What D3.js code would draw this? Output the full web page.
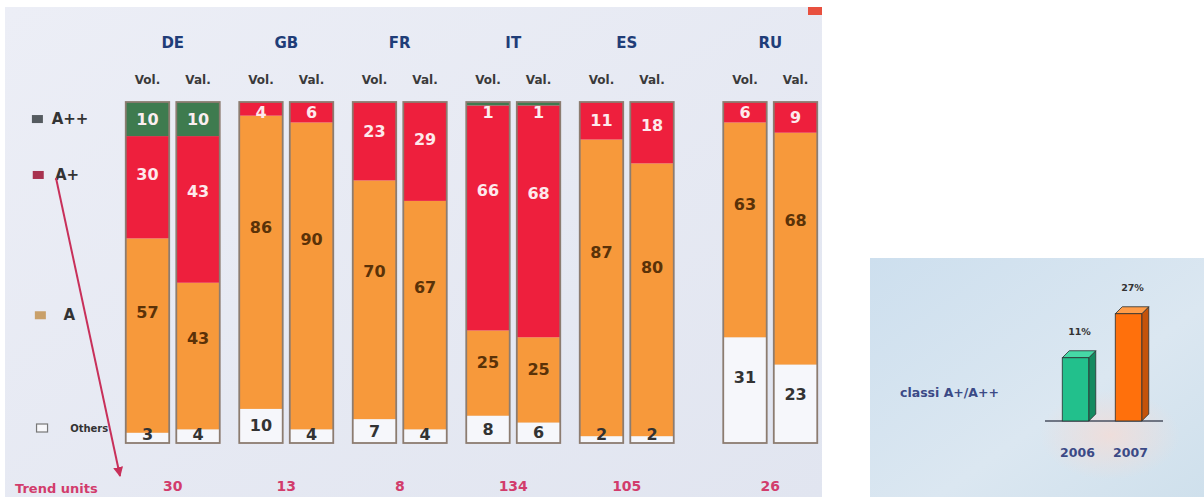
<!doctype html>
<html>
<head>
<meta charset="UTF-8">
<title>classi energetiche</title>
<script src="https://d3js.org/d3.v7.min.js"></script>
<style>
  body { margin: 0; background: #fff; }
  svg { display: block; font-family: "DejaVu Sans", Verdana, sans-serif; }
</style>
</head>
<body>
<svg width="1204" height="497"></svg>
<script>
// data (percent shares, Vol. / Val. per country)
var countries = ["DE", "GB", "FR", "IT", "ES", "RU"];
var measures = ["Vol.", "Val."];
var classes = ["Others", "A", "A+", "A++"];   // bottom -> top
var others   = [[3, 4], [10, 4], [7, 4], [8, 6], [2, 2], [31, 23]];
var classA   = [[57, 43], [86, 90], [70, 67], [25, 25], [87, 80], [63, 68]];
var classAp  = [[30, 43], [4, 6], [23, 29], [66, 68], [11, 18], [6, 9]];
var classApp = [[10, 10], [0, 0], [0, 0], [1, 1], [0, 0], [0, 0]];
var trendUnits = [30, 13, 8, 134, 105, 26];

// inset
var years = ["2006", "2007"];
var shareAplus = [11, 27];

var fills = { "A++": "#3e7b4f", "A+": "#ee1f3d", "A": "#f7993b", "Others": "#f6f7fb" };
var labelColor = { "A++": "#fbeef0", "A+": "#fde9ec", "A": "#5a3208", "Others": "#333" };
var legendColor = { "A++": "#555b60", "A+": "#a8324f", "A": "#c9a06a", "Others": "#f8f8fb" };

var svg = d3.select("svg");
var defs = svg.append("defs");

var bg = defs.append("linearGradient").attr("id", "bg").attr("x1", 0).attr("y1", 0).attr("x2", 1).attr("y2", 1);
bg.append("stop").attr("offset", "0%").attr("stop-color", "#eceef6");
bg.append("stop").attr("offset", "100%").attr("stop-color", "#e1e5f0");

var bg2 = defs.append("linearGradient").attr("id", "bg2").attr("x1", 0).attr("y1", 0).attr("x2", 1).attr("y2", 1);
bg2.append("stop").attr("offset", "0%").attr("stop-color", "#cddfee");
bg2.append("stop").attr("offset", "60%").attr("stop-color", "#dbe7f1");
bg2.append("stop").attr("offset", "100%").attr("stop-color", "#cfe0ec");

var glow = defs.append("radialGradient").attr("id", "glow");
glow.append("stop").attr("offset", "0%").attr("stop-color", "#f4dcd6").attr("stop-opacity", 0.8);
glow.append("stop").attr("offset", "100%").attr("stop-color", "#f4dcd6").attr("stop-opacity", 0);

defs.append("marker").attr("id", "arr")
  .attr("viewBox", "0 0 10 10").attr("refX", 9).attr("refY", 5)
  .attr("markerWidth", 5).attr("markerHeight", 5).attr("orient", "auto")
  .append("path").attr("d", "M0,0L10,5L0,10z").attr("fill", "#c8305a");

// main panel
svg.append("rect").attr("x", 5).attr("y", 7).attr("width", 817).attr("height", 490).attr("fill", "url(#bg)");
svg.append("rect").attr("x", 808).attr("y", 7).attr("width", 14).attr("height", 8).attr("fill", "#e8503f");

// scales
var groupW = 94;
var extraGap = 30; // RU stands a bit apart
var x0 = d3.scaleBand().domain(countries).range([116, 797]);
var x1 = d3.scaleBand().domain(measures).range([0, groupW]).paddingInner(0.14);
var y = d3.scaleLinear().domain([0, 100]).range([443, 102]);

function groupX(c) {
  var i = countries.indexOf(c);
  return x0(c) + (x0.bandwidth() - groupW) / 2 + (i === countries.length - 1 ? extraGap : 0);
}

// build rows
var rows = [];
countries.forEach(function (c, i) {
  measures.forEach(function (m, j) {
    rows.push({ country: c, measure: m, Others: others[i][j], "A": classA[i][j], "A+": classAp[i][j], "A++": classApp[i][j] });
  });
});
var series = d3.stack().keys(classes)(rows);

var segs = [];
series.forEach(function (s) {
  s.forEach(function (d) {
    var v = d[1] - d[0];
    if (v <= 0) return;
    var top = y(d[1]), bot = y(d[0]), h = bot - top;
    var ly = h >= 45 ? top + h * 0.38 : top + h / 2;
    if (d[1] >= 100) ly = Math.max(ly, top + 10);
    if (d[0] <= 0) ly = Math.min(ly, bot - 9);
    segs.push({ key: s.key, v: v, x: groupX(d.data.country) + x1(d.data.measure), top: top, h: h, ly: ly, row: d.data });
  });
});

svg.append("g").selectAll("rect").data(segs).enter().append("rect")
  .attr("x", function (d) { return d.x; })
  .attr("y", function (d) { return d.top; })
  .attr("width", x1.bandwidth())
  .attr("height", function (d) { return d.h; })
  .attr("fill", function (d) { return fills[d.key]; });

// bar outlines
svg.append("g").selectAll("rect").data(rows).enter().append("rect")
  .attr("x", function (d) { return groupX(d.country) + x1(d.measure); })
  .attr("y", y(100))
  .attr("width", x1.bandwidth())
  .attr("height", y(0) - y(100))
  .attr("fill", "none")
  .attr("stroke", "#8c7c70")
  .attr("stroke-width", 1.8);

svg.append("g").selectAll("text").data(segs).enter().append("text")
  .attr("x", function (d) { return d.x + x1.bandwidth() / 2; })
  .attr("y", function (d) { return d.ly; })
  .attr("text-anchor", "middle")
  .attr("dominant-baseline", "central")
  .attr("font-size", 16)
  .attr("font-weight", "bold")
  .attr("fill", function (d) { return labelColor[d.key]; })
  .text(function (d) { return d.v; });

// headers
svg.append("g").selectAll("text").data(countries).enter().append("text")
  .attr("x", function (c) { return groupX(c) + groupW / 2; })
  .attr("y", 43)
  .attr("text-anchor", "middle")
  .attr("dominant-baseline", "central")
  .attr("font-size", 15)
  .attr("font-weight", "bold")
  .attr("fill", "#1f3d78")
  .text(function (c) { return c; });

svg.append("g").selectAll("text").data(rows).enter().append("text")
  .attr("x", function (d) { return groupX(d.country) + x1(d.measure) + x1.bandwidth() / 2; })
  .attr("y", 80)
  .attr("text-anchor", "middle")
  .attr("dominant-baseline", "central")
  .attr("font-size", 12)
  .attr("font-weight", "bold")
  .attr("fill", "#3a3a3a")
  .text(function (d) { return d.measure; });

// legend, aligned with the DE Vol. labels
var legend = classes.slice().reverse().map(function (k) {
  var s = segs.filter(function (d) { return d.key === k && d.row.country === "DE" && d.row.measure === "Vol."; })[0];
  return { key: k, y: k === "Others" ? s.ly - 6 : s.ly + (k === "A" ? 3 : 0) };
});
var lg = svg.append("g").selectAll("g").data(legend).enter().append("g");
lg.append("rect")
  .attr("x", function (d) { return 32 + (d.y - 125) * 0.015; })
  .attr("y", function (d) { return d.y - 4; })
  .attr("width", 11).attr("height", 8)
  .attr("fill", function (d) { return legendColor[d.key]; })
  .attr("stroke", function (d) { return d.key === "Others" ? "#777" : "none"; })
  .attr("stroke-width", 1.2);
lg.append("text")
  .attr("x", function (d) { return 52 + (d.y - 125) * 0.06; })
  .attr("y", function (d) { return d.y; })
  .attr("dominant-baseline", "central")
  .attr("font-weight", "bold")
  .attr("font-size", function (d) { return d.key === "Others" ? 10 : 15; })
  .attr("fill", "#333")
  .text(function (d) { return d.key; });

// trend arrow + units
var aPlusY = legend.filter(function (d) { return d.key === "A+"; })[0].y;
svg.append("line")
  .attr("x1", 56).attr("y1", aPlusY + 3)
  .attr("x2", 120).attr("y2", 476)
  .attr("stroke", "#c8305a").attr("stroke-width", 2)
  .attr("marker-end", "url(#arr)");

svg.append("text").attr("x", 15).attr("y", 488)
  .attr("dominant-baseline", "central")
  .attr("font-size", 13).attr("font-weight", "bold").attr("fill", "#d23c6c")
  .text("Trend units");

svg.append("g").selectAll("text").data(trendUnits).enter().append("text")
  .attr("x", function (d, i) { return groupX(countries[i]) + groupW / 2; })
  .attr("y", 486)
  .attr("text-anchor", "middle")
  .attr("dominant-baseline", "central")
  .attr("font-size", 14).attr("font-weight", "bold").attr("fill", "#d23c6c")
  .text(function (d) { return d; });

// inset panel
svg.append("rect").attr("x", 870).attr("y", 258).attr("width", 334).attr("height", 239).attr("fill", "url(#bg2)");
svg.append("ellipse").attr("cx", 1110).attr("cy", 435).attr("rx", 70).attr("ry", 45).attr("fill", "url(#glow)");

svg.append("text").attr("x", 900).attr("y", 392)
  .attr("dominant-baseline", "central")
  .attr("font-size", 12.5).attr("font-weight", "bold").attr("fill", "#3b4a86")
  .text("classi A+/A++");

var ix = d3.scaleBand().domain(years).range([1049, 1155]).paddingInner(0.5).paddingOuter(0.25);
var iy = d3.scaleLinear().domain([-12, 28]).range([421, 311]);
var depth = 7;
var barCols = [
  { front: "#22c08c", side: "#148a60", top: "#46d8a6" },
  { front: "#ff700c", side: "#c4530a", top: "#ff9c48" }
];

svg.append("line").attr("x1", 1045).attr("x2", 1163).attr("y1", iy(-12)).attr("y2", iy(-12))
  .attr("stroke", "#4a5060").attr("stroke-width", 1.6);

var ib = svg.append("g").selectAll("g").data(shareAplus).enter().append("g");
ib.append("path") // side
  .attr("d", function (d, i) {
    var x = ix(years[i]) + ix.bandwidth(), t = iy(d), b = iy(-12);
    return "M" + x + "," + t + "L" + (x + depth) + "," + (t - depth) + "L" + (x + depth) + "," + (b - depth) + "L" + x + "," + b + "Z";
  })
  .attr("fill", function (d, i) { return barCols[i].side; })
  .attr("stroke", "#2a3030").attr("stroke-width", 0.8);
ib.append("path") // top
  .attr("d", function (d, i) {
    var x = ix(years[i]), w = ix.bandwidth(), t = iy(d);
    return "M" + x + "," + t + "L" + (x + depth) + "," + (t - depth) + "L" + (x + w + depth) + "," + (t - depth) + "L" + (x + w) + "," + t + "Z";
  })
  .attr("fill", function (d, i) { return barCols[i].top; })
  .attr("stroke", "#2a3030").attr("stroke-width", 0.8);
ib.append("rect") // front
  .attr("x", function (d, i) { return ix(years[i]); })
  .attr("y", function (d) { return iy(d); })
  .attr("width", ix.bandwidth())
  .attr("height", function (d) { return iy(-12) - iy(d); })
  .attr("fill", function (d, i) { return barCols[i].front; })
  .attr("stroke", "#2a3030").attr("stroke-width", 0.8);
ib.append("text")
  .attr("x", function (d, i) { return ix(years[i]) + ix.bandwidth() / 2 + 4; })
  .attr("y", function (d) { return iy(d) - depth - 19; })
  .attr("text-anchor", "middle")
  .attr("dominant-baseline", "central")
  .attr("font-size", 9.5).attr("font-weight", "bold").attr("fill", "#333")
  .text(function (d) { return d + "%"; });

svg.append("g").selectAll("text").data(years).enter().append("text")
  .attr("x", function (d) { return ix(d) + ix.bandwidth() / 2 + 2; })
  .attr("y", 452)
  .attr("text-anchor", "middle")
  .attr("dominant-baseline", "central")
  .attr("font-size", 12.5).attr("font-weight", "bold").attr("fill", "#3b4a86")
  .text(function (d) { return d; });
</script>
</body>
</html>
